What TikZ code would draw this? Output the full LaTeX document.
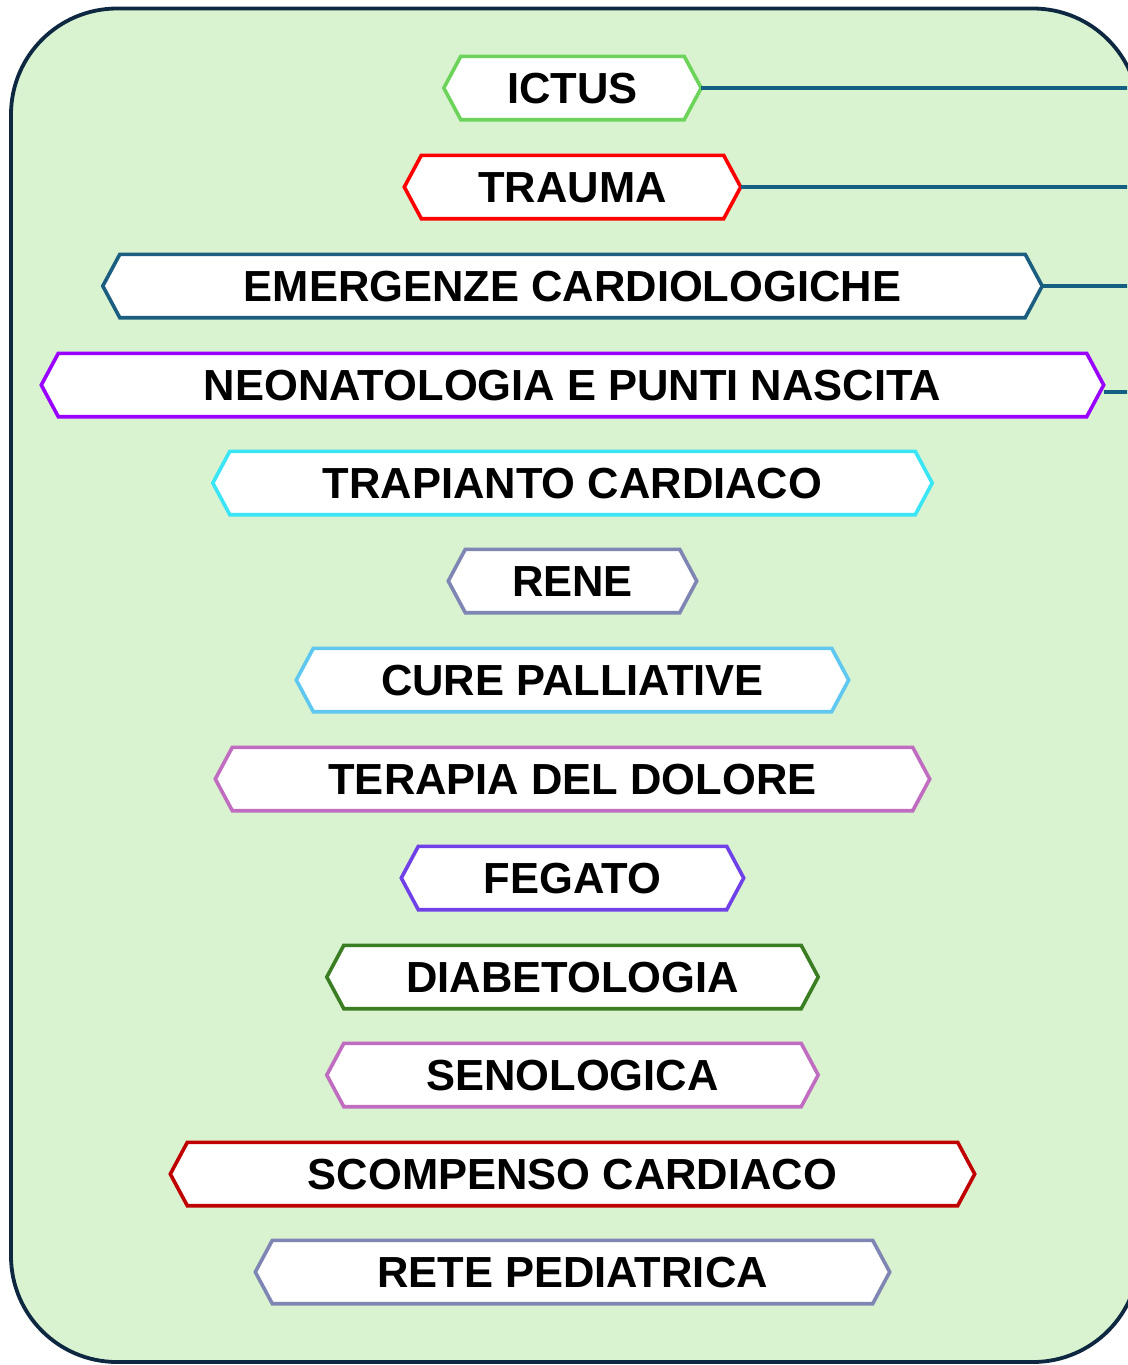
\documentclass[tikz,border=0pt]{standalone}
\usepackage{fontspec}
\setmainfont{Liberation Sans}
\definecolor{panelfill}{HTML}{D9F2D0}
\definecolor{panelline}{HTML}{0E2841}
\definecolor{linkc}{HTML}{156082}
\definecolor{cIctus}{HTML}{6CD45A}
\definecolor{cTrauma}{HTML}{FF0000}
\definecolor{cEmerg}{HTML}{1B5E80}
\definecolor{cNeo}{HTML}{9900FF}
\definecolor{cTrap}{HTML}{3AE5F5}
\definecolor{cRene}{HTML}{7F86B4}
\definecolor{cCure}{HTML}{5FC8F0}
\definecolor{cTer}{HTML}{C06CC0}
\definecolor{cFeg}{HTML}{7040E8}
\definecolor{cDiab}{HTML}{3A7D22}
\definecolor{cSeno}{HTML}{C06CC0}
\definecolor{cScomp}{HTML}{C00000}
\definecolor{cRete}{HTML}{7F86B4}
\pgfdeclarelayer{bg}
\pgfdeclarelayer{hex}
\pgfsetlayers{bg,hex,main}
\newcommand\hexoutline[2]{%
  \path[hexline, draw=#2] (#1.north west) -- (#1.north east) -- ([xshift=17pt]#1.east)
    -- (#1.south east) -- (#1.south west) -- ([xshift=-17pt]#1.west) -- cycle;
  \coordinate (#1tip) at ([xshift=17pt]#1.east);}
\begin{document}
\begin{tikzpicture}[x=1pt,y=-1pt,
  hexbox/.style={minimum width=#1, minimum height=63pt, inner sep=0pt,
    text height=31.5pt, text depth=0pt,
    font=\fontsize{43.5}{50}\selectfont\bfseries},
  hexline/.style={fill=white, line width=3.6pt, line join=miter},
  panel/.style={fill=panelfill, draw=panelline, line width=3.8pt, rounded corners=106pt},
  link/.style={draw=linkc, line width=3.4pt}]
\useasboundingbox (0,0) rectangle (1127,1365);
\clip (0,0) rectangle (1127,1365);
\begin{pgfonlayer}{bg}
  \path[panel] (11,8.5) rectangle (1139,1362);
\end{pgfonlayer}

\node[hexbox=223pt] (n1) at (572.5,88) {ICTUS};
\node[hexbox=302pt] (n2) at (572.5,187) {TRAUMA};
\node[hexbox=905pt] (n3) at (572.5,286) {EMERGENZE CARDIOLOGICHE};
\node[hexbox=1028pt] (n4) at (572.5,385) {NEONATOLOGIA E PUNTI NASCITA};
\node[hexbox=685pt] (n5) at (572.5,483) {TRAPIANTO CARDIACO};
\node[hexbox=214pt] (n6) at (572.5,581) {RENE};
\node[hexbox=518pt] (n7) at (572.5,680) {CURE PALLIATIVE};
\node[hexbox=680pt] (n8) at (572.5,779) {TERAPIA DEL DOLORE};
\node[hexbox=308pt] (n9) at (572.5,878) {FEGATO};
\node[hexbox=457pt] (n10) at (572.5,977) {DIABETOLOGIA};
\node[hexbox=457pt] (n11) at (572.5,1075) {SENOLOGICA};
\node[hexbox=770pt] (n12) at (572.5,1174) {SCOMPENSO CARDIACO};
\node[hexbox=600pt] (n13) at (572.5,1272) {RETE PEDIATRICA};

\begin{pgfonlayer}{hex}
  \hexoutline{n1}{cIctus}
  \hexoutline{n2}{cTrauma}
  \hexoutline{n3}{cEmerg}
  \hexoutline{n4}{cNeo}
  \hexoutline{n5}{cTrap}
  \hexoutline{n6}{cRene}
  \hexoutline{n7}{cCure}
  \hexoutline{n8}{cTer}
  \hexoutline{n9}{cFeg}
  \hexoutline{n10}{cDiab}
  \hexoutline{n11}{cSeno}
  \hexoutline{n12}{cScomp}
  \hexoutline{n13}{cRete}
\end{pgfonlayer}

\coordinate (e1) at (1140,88);
\coordinate (e2) at (1140,187);
\coordinate (e3) at (1140,286);
\coordinate (e4) at (1140,392);
\draw[link] (n1tip) -- (e1);
\draw[link] (n2tip) -- (e2);
\draw[link] (n3tip) -- (e3);
\draw[link] (n4tip |- e4) -- (e4);
\end{tikzpicture}
\end{document}
